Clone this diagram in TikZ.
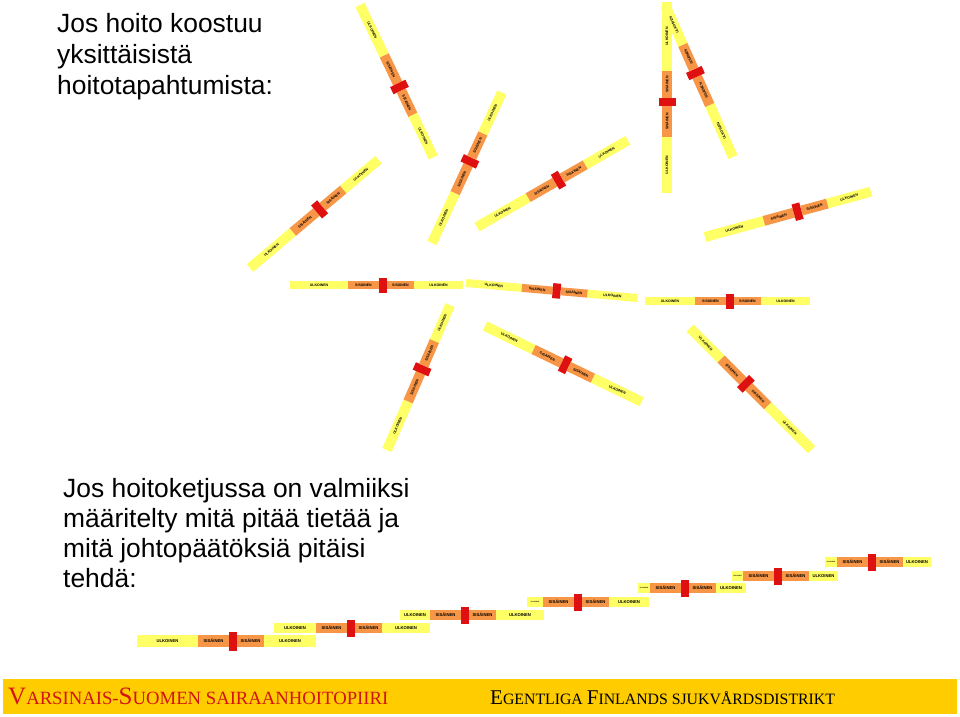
\documentclass[tikz,border=0pt]{standalone}
\usepackage{fontspec}
\setmainfont{Liberation Sans}
\newfontfamily\alafontti{Liberation Serif}

\definecolor{ulkoinen}{RGB}{255,255,102}
\definecolor{sisainen}{RGB}{247,150,70}
\definecolor{punainen}{RGB}{222,16,16}
\definecolor{kulta}{RGB}{255,204,0}
\definecolor{alapunainen}{RGB}{210,20,20}

\tikzset{
  palkkiteksti/.style={font=\fontsize{3.5}{4}\selectfont\bfseries, inner sep=0pt, transform shape},
  ekateksti/.style={},
  % one chain of care events: yellow - orange - red - orange - yellow
  pics/palkki/.style args={#1/#2/#3}{code={
    \fill[ulkoinen] (0,-#3) rectangle ({#1},#3);
    \fill[sisainen] ({#1},-#3) rectangle ({#1+31},#3);
    \fill[punainen] ({#1+31},{-#3-3.5}) rectangle ({#1+39},{#3+3.5});
    \fill[sisainen] ({#1+39},-#3) rectangle ({#1+66},#3);
    \fill[ulkoinen] ({#1+66},-#3) rectangle ({#1+66+#2},#3);
    \node[palkkiteksti,ekateksti] (-u1) at ({#1/2},0) {ULKOINEN};
    \node[palkkiteksti] (-s1) at ({#1+15.5},0) {SISÄINEN};
    \node[palkkiteksti] (-s2) at ({#1+52.5},0) {SISÄINEN};
    \node[palkkiteksti] (-u2) at ({#1+66+#2/2},0) {ULKOINEN};
  }}
}

\begin{document}
\begin{tikzpicture}[x=1pt,y=-1pt,
    otsikko/.style={anchor=base west, inner sep=0pt, font=\fontsize{26.4}{30}\selectfont},
    trappu/.style={palkkiteksti/.append style={font=\fontsize{4.2}{5}\selectfont\bfseries}},
    lyhyt/.style={ekateksti/.style={font=\fontsize{1.6}{2}\selectfont\bfseries}},
    alateksti/.style={anchor=base west, inner sep=0pt, font=\alafontti}]
  \useasboundingbox (0,0) rectangle (960,716);

  % upper text
  \node[otsikko] (yla1) at (57,32) {Jos hoito koostuu};
  \node[otsikko] (yla2) at (57,63) {yksittäisistä};
  \node[otsikko] (yla3) at (57,94) {hoitotapahtumista:};

  % scattered chains
  \pic[rotate=40.1] (pa) at (250,268) {palkki=56/46/5};
  \pic[rotate=-64.3] (pb) at (360,5) {palkki=56/47/5};
  \pic[rotate=65.1] (pc) at (432,243) {palkki=55/45/5};
  \pic[rotate=29.9] (pd) at (477,227) {palkki=59/49/5};
  \pic[rotate=90] (pe) at (667,193) {palkki=56/69/5};
  \pic[rotate=114.1] (pf) at (733,157) {palkki=57/43/5};
  \pic[rotate=15.3] (pg) at (705,237) {palkki=61/45/5};
  \pic (ph) at (290,285) {palkki=58/49/4};
  \pic[rotate=-5] (pi) at (466,283) {palkki=56/50/4};
  \pic (pj) at (645,301) {palkki=50/49/4};
  \pic[rotate=66.5] (pk) at (387,450) {palkki=53/39/5};
  \pic[rotate=-25.8] (pl) at (485,326) {palkki=54/54/5};
  \pic[rotate=-45] (pm) at (690,328) {palkki=44/62/5};

  % lower text
  \node[otsikko] (ala1) at (63,497) {Jos hoitoketjussa on valmiiksi};
  \node[otsikko] (ala2) at (63,527) {määritelty mitä pitää tietää ja};
  \node[otsikko] (ala3) at (63,557) {mitä johtopäätöksiä pitäisi};
  \node[otsikko] (ala4) at (63,587) {tehdä:};

  % defined chain, step by step
  \pic[trappu] (t1) at (137,641) {palkki=61/52/6};
  \pic[trappu] (t2) at (274,628) {palkki=42/48/5};
  \pic[trappu] (t3) at (400,615) {palkki=30/48/5};
  \pic[trappu,lyhyt] (t4) at (527,602) {palkki=16/40/5};
  \pic[trappu,lyhyt] (t5) at (638,588) {palkki=12/30/5};
  \pic[trappu,lyhyt] (t6) at (732,576) {palkki=11/29/5};
  \pic[trappu,lyhyt] (t7) at (825,562) {palkki=12/28/5};

  % footer
  \fill[kulta] (3,679) rectangle (957,714);
  \node[alateksti, text=alapunainen] (vsshp) at (8,704)
    {{\fontsize{25}{26}\selectfont V}{\fontsize{18.7}{19}\selectfont ARSINAIS-}{\fontsize{25}{26}\selectfont S}{\fontsize{18.7}{19}\selectfont UOMEN SAIRAANHOITOPIIRI}};
  \node[alateksti] (egfs) at (490,704)
    {{\fontsize{21}{22}\selectfont E}{\fontsize{15.8}{16}\selectfont GENTLIGA }{\fontsize{21}{22}\selectfont F}{\fontsize{15.8}{16}\selectfont INLANDS SJUKVÅRDSDISTRIKT}};
\end{tikzpicture}
\end{document}
